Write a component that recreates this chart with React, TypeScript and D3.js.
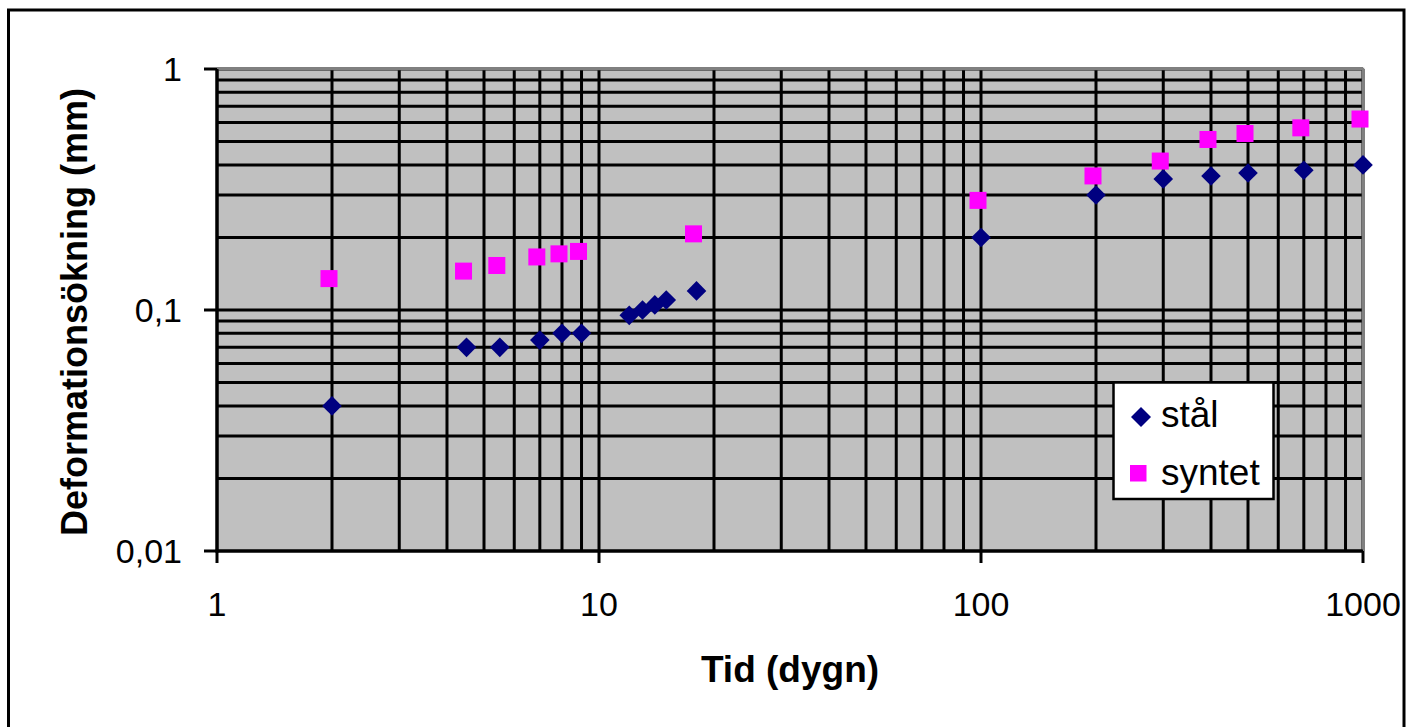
import React, { useEffect, useRef } from 'react';
import * as d3 from 'd3';

// Tid (dygn) / Deformationsökning (mm)
const stalDays = [2, 4.5, 5.5, 7, 8, 9, 12, 13, 14, 15, 18, 100, 200, 300, 400, 500, 700, 1000];
const stalMm = [0.04, 0.07, 0.07, 0.075, 0.08, 0.08, 0.095, 0.1, 0.105, 0.11, 0.12, 0.2, 0.3, 0.35, 0.36, 0.37, 0.38, 0.4];
const syntetDays = [2, 4.5, 5.5, 7, 8, 9, 18, 100, 200, 300, 400, 500, 700, 1000];
const syntetMm = [0.135, 0.145, 0.153, 0.166, 0.171, 0.175, 0.207, 0.285, 0.36, 0.415, 0.51, 0.54, 0.57, 0.62];

const xTicks = [1, 10, 100, 1000];
const xTickLabels = ['1', '10', '100', '1000'];
const yTicks = [0.01, 0.1, 1];
const yTickLabels = ['0,01', '0,1', '1'];
const seriesNames = ['stål', 'syntet'];

const W = 1410;
const H = 727;

export default function App() {
  const ref = useRef<SVGSVGElement>(null);

  useEffect(() => {
    const svg = d3.select(ref.current);
    svg.selectAll('*').remove();

    const left = 217, right = 1363, top = 69, bottom = 551;
    const x = d3.scaleLog().domain([1, 1000]).range([left, right]);
    const y = d3.scaleLog().domain([0.01, 1]).range([bottom, top]);
    const font = 'Liberation Sans, Arial, sans-serif';

    // outer frame
    svg.append('rect')
      .attr('x', 8.5).attr('y', 10).attr('width', 1395.5).attr('height', 800)
      .attr('fill', '#fff').attr('stroke', '#000').attr('stroke-width', 3);

    // plot area
    svg.append('rect')
      .attr('x', left).attr('y', top).attr('width', right - left).attr('height', bottom - top)
      .attr('fill', '#c0c0c0');

    const grid = svg.append('g').attr('stroke', '#000').attr('stroke-width', 3);
    grid.selectAll('line.v')
      .data(x.ticks())
      .enter().append('line')
      .attr('x1', d => x(d)).attr('x2', d => x(d))
      .attr('y1', top).attr('y2', bottom);
    grid.selectAll('line.h')
      .data(y.ticks())
      .enter().append('line')
      .attr('y1', d => y(d)).attr('y2', d => y(d))
      .attr('x1', left).attr('x2', right);

    // gray border top / right
    svg.append('path')
      .attr('d', `M${left},${top} H${right} V${bottom}`)
      .attr('fill', 'none').attr('stroke', '#808080').attr('stroke-width', 2.5);

    // axes
    const axes = svg.append('g').attr('stroke', '#000').attr('stroke-width', 3);
    axes.append('line').attr('x1', left).attr('x2', left).attr('y1', top).attr('y2', bottom + 1.5);
    axes.append('line').attr('x1', left - 1.5).attr('x2', right).attr('y1', bottom).attr('y2', bottom);
    axes.selectAll('line.yt')
      .data(yTicks)
      .enter().append('line')
      .attr('x1', left - 13).attr('x2', left)
      .attr('y1', d => y(d)).attr('y2', d => y(d));
    axes.selectAll('line.xt')
      .data(xTicks)
      .enter().append('line')
      .attr('x1', d => x(d)).attr('x2', d => x(d))
      .attr('y1', bottom).attr('y2', bottom + 12);

    svg.append('g').selectAll('text')
      .data(yTicks)
      .enter().append('text')
      .attr('x', 182).attr('y', d => y(d))
      .attr('dy', '0.36em')
      .attr('text-anchor', 'end')
      .attr('font-family', font).attr('font-size', 34)
      .text((d, i) => yTickLabels[i]);

    svg.append('g').selectAll('text')
      .data(xTicks)
      .enter().append('text')
      .attr('x', d => x(d)).attr('y', 616)
      .attr('text-anchor', 'middle')
      .attr('font-family', font).attr('font-size', 34)
      .text((d, i) => xTickLabels[i]);

    // titles
    svg.append('text')
      .attr('x', (left + right) / 2).attr('y', 682)
      .attr('text-anchor', 'middle')
      .attr('font-family', font).attr('font-size', 37).attr('font-weight', 'bold')
      .text('Tid (dygn)');
    svg.append('text')
      .attr('transform', `translate(87,${(top + bottom) / 2 + 2}) rotate(-90)`)
      .attr('text-anchor', 'middle')
      .attr('font-family', font).attr('font-size', 36).attr('font-weight', 'bold')
      .text('Deformationsökning (mm)');

    // markers
    const diamond = (s: number) => `M0,${-s} L${s},0 L0,${s} L${-s},0 Z`;
    svg.append('g').selectAll('path')
      .data(stalDays.map((d, i) => [d, stalMm[i]]))
      .enter().append('path')
      .attr('transform', d => `translate(${x(d[0])},${y(d[1])})`)
      .attr('d', diamond(9.8))
      .attr('fill', '#000080');

    const sq = 17;
    svg.append('g').selectAll('rect')
      .data(syntetDays.map((d, i) => [d, syntetMm[i]]))
      .enter().append('rect')
      .attr('x', d => x(d[0]) - 3 - sq / 2).attr('y', d => y(d[1]) - sq / 2)
      .attr('width', sq).attr('height', sq)
      .attr('fill', '#ff00ff');

    // legend
    const lg = svg.append('g');
    lg.append('rect')
      .attr('x', 1113.5).attr('y', 382.5).attr('width', 160).attr('height', 116.5)
      .attr('fill', '#fff').attr('stroke', '#000').attr('stroke-width', 2.5);
    lg.append('path')
      .attr('transform', 'translate(1141,417)')
      .attr('d', diamond(10))
      .attr('fill', '#000080');
    lg.append('rect')
      .attr('x', 1130).attr('y', 465).attr('width', 16.5).attr('height', 16.5)
      .attr('fill', '#ff00ff');
    lg.selectAll('text')
      .data(seriesNames)
      .enter().append('text')
      .attr('x', 1161).attr('y', (d, i) => (i === 0 ? 427 : 485))
      .attr('font-family', font).attr('font-size', 37)
      .text(d => d);
  }, []);

  return (
    <div style={{ position: 'fixed', left: 0, top: 0 }}>
      <svg ref={ref} width={W} height={H} style={{ display: 'block' }} />
    </div>
  );
}
